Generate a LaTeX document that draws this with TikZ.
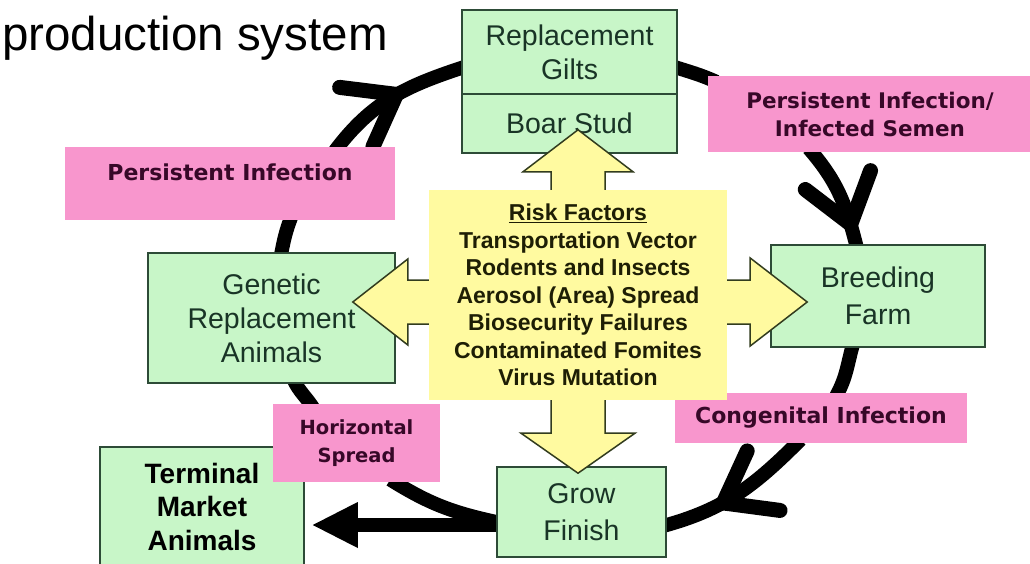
\documentclass[tikz,border=0pt]{standalone}
\usepackage{fontspec}
\setmainfont{Liberation Sans}
\newfontfamily\routefont{DejaVu Sans}
\usetikzlibrary{arrows.meta,decorations.markings,backgrounds}

\definecolor{stagegreen}{RGB}{200,246,200}
\definecolor{stageline}{RGB}{45,75,55}
\definecolor{stagetext}{RGB}{25,52,38}
\definecolor{routepink}{RGB}{248,150,205}
\definecolor{routetext}{RGB}{55,8,40}
\definecolor{riskyellow}{RGB}{255,250,160}
\definecolor{riskline}{RGB}{50,60,30}
\definecolor{risktext}{RGB}{30,30,5}

\tikzset{
  stage/.style={draw=stageline, line width=1.5pt, fill=stagegreen, text=stagetext,
    align=center, inner sep=0pt, font=\fontsize{28.5}{34}\selectfont},
  route/.style={fill=routepink, text=routetext, align=center, inner sep=0pt,
    font=\routefont\bfseries\fontsize{22}{28}\selectfont},
  ring/.style={line width=14pt, shorten <=-5pt, shorten >=-5pt},
  chevron at/.style={postaction={decorate}, decoration={markings,
    mark=at position #1 with {\draw[line width=15pt, line cap=round, line join=round]
      (-42pt,31pt) -- (0pt,0pt) -- (-42pt,-31pt);}}},
  blockarrow/.style={fill=riskyellow, draw=riskline, line width=1.5pt, line join=miter},
}

\begin{document}
\begin{tikzpicture}[x=1pt,y=1pt]
\useasboundingbox (0,0) rectangle (1030,563);

% Title
\node[anchor=base west, inner sep=0pt, font=\fontsize{47.5}{57}\selectfont] (title) at (2,512) {production system};

% Stages
\node[stage, minimum width=215pt, minimum height=84pt] (gilts) at (569.5,511) {Replacement\\Gilts};
\node[stage, minimum width=215pt, minimum height=59pt] (boar) at (569.5,439.5) {Boar Stud};
\node[stage, minimum width=247pt, minimum height=130pt] (genetic) at (271.5,245) {Genetic\\Replacement\\Animals};
\node[stage, minimum width=214pt, minimum height=102pt, font=\fontsize{28.5}{37}\selectfont] (breeding) at (878,267) {Breeding\\Farm};
\node[stage, minimum width=169pt, minimum height=90pt, font=\fontsize{28.5}{37}\selectfont] (grow) at (581.5,51) {Grow\\Finish};
\node[stage, text=black, minimum width=204pt, minimum height=119pt, font=\bfseries\fontsize{28}{33.5}\selectfont] (market) at (202,56.5) {Terminal\\Market\\Animals};

% Routes of infection
\node[route, minimum width=330pt, minimum height=73pt, text depth=22pt] (pinfect) at (230,379.5) {Persistent Infection};
\node[route, minimum width=324pt, minimum height=76pt, font=\routefont\bfseries\fontsize{21.5}{28}\selectfont] (semen) at (870,449) {Persistent Infection/\\Infected Semen};
\node[route, minimum width=167pt, minimum height=78pt, font=\routefont\bfseries\fontsize{19.5}{28}\selectfont] (horizontal) at (356.5,120) {Horizontal\\Spread};
\node[route, minimum width=292pt, minimum height=50pt] (congenital) at (821,145) {Congenital Infection};

% Risk factors
\node[fill=riskyellow, text=risktext, align=center, inner sep=0pt, minimum width=298pt, minimum height=210pt,
  font=\bfseries\fontsize{23}{27.5}\selectfont] (risk) at (578,268)
  {\underline{Risk Factors}\\Transportation Vector\\Rodents and Insects\\Aerosol (Area) Spread\\
   Biosecurity Failures\\Contaminated Fomites\\Virus Mutation};

% Block arrows out of the risk box
\draw[blockarrow] ([xshift=-27pt]risk.north) -- ++(0,18) -- ++(-28,0) -- ++(55,42) -- ++(55,-42) -- ++(-28,0) -- ++(0,-18);
\draw[blockarrow] ([xshift=-27pt]risk.south) -- ++(0,-33) -- ++(-30,0) -- ++(57,-40) -- ++(57,40) -- ++(-30,0) -- ++(0,33);
\draw[blockarrow] ([yshift=15pt]risk.west) -- ++(-21,0) -- ++(0,21) -- ++(-55,-43) -- ++(55,-43) -- ++(0,21) -- ++(21,0);
\draw[blockarrow] ([yshift=15pt]risk.east) -- ++(23,0) -- ++(0,22) -- ++(57,-44) -- ++(-57,-44) -- ++(0,22) -- ++(-23,0);

% Production cycle
\begin{scope}[on background layer]
\fill[white] (0,0) rectangle (1030,563);
\draw[ring] ([xshift=10pt]genetic.north) to[out=79,in=249] ([xshift=60pt]pinfect.south);
\draw[ring, chevron at=0.53] ([xshift=108pt]pinfect.north) to[out=53,in=198] ([yshift=-16pt]gilts.west);
\draw[ring] ([yshift=-16pt]gilts.east) to[out=-18,in=156] ([xshift=4pt,yshift=-4pt]semen.north west);
\draw[ring, chevron at=0.8] ([xshift=-58pt]semen.south) to[out=-49,in=104] ([xshift=-22pt]breeding.north);
\draw[ring] ([xshift=-26pt]breeding.south) to[out=-106,in=61] ([xshift=17pt]congenital.north);
\draw[ring, chevron at=0.61] ([xshift=-24pt]congenital.south) to[out=-135,in=15] ([yshift=-13pt]grow.east);
\draw[ring] ([yshift=-10pt]grow.west) to[out=168,in=-32] ([xshift=38pt]horizontal.south);
\draw[ring] ([xshift=-46pt]horizontal.north) to[out=123,in=-64] ([xshift=24pt]genetic.south);

% Sold to market
\draw[ring, shorten >=8pt, -{Triangle[length=45pt,width=46pt,line width=0pt]}]
  ([yshift=-13pt]grow.west) -- ([yshift=-13pt]grow.west -| market.east);
\end{scope}
\end{tikzpicture}
\end{document}
